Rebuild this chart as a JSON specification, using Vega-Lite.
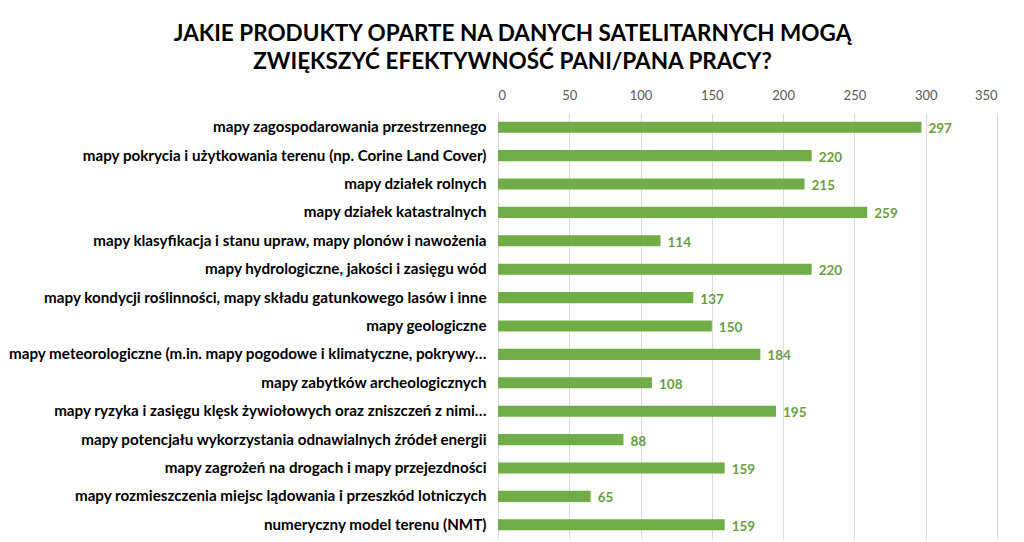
{
  "$schema": "https://vega.github.io/schema/vega-lite/v6.json",
  "width": 499,
  "height": 426,
  "autosize": {"type": "none"},
  "padding": {"left": 498, "top": 113, "right": 27, "bottom": 3},
  "background": "white",
  "title": {
    "text": ["JAKIE PRODUKTY OPARTE NA DANYCH SATELITARNYCH MOGĄ", "ZWIĘKSZYĆ EFEKTYWNOŚĆ PANI/PANA PRACY?"],
    "anchor": "middle",
    "frame": "group",
    "dx": -235,
    "font": "Lato",
    "fontSize": 22.5,
    "fontWeight": "bold",
    "color": "#000000",
    "lineHeight": 28,
    "offset": 16
  },
  "data": {
    "values": [
      {"kategoria": "mapy zagospodarowania przestrzennego", "liczba": 297},
      {"kategoria": "mapy pokrycia i użytkowania terenu (np. Corine Land Cover)", "liczba": 220},
      {"kategoria": "mapy działek rolnych", "liczba": 215},
      {"kategoria": "mapy działek katastralnych", "liczba": 259},
      {"kategoria": "mapy klasyfikacja i stanu upraw, mapy plonów i nawożenia", "liczba": 114},
      {"kategoria": "mapy hydrologiczne, jakości i zasięgu wód", "liczba": 220},
      {"kategoria": "mapy kondycji roślinności, mapy składu gatunkowego lasów i inne", "liczba": 137},
      {"kategoria": "mapy geologiczne", "liczba": 150},
      {"kategoria": "mapy meteorologiczne (m.in. mapy pogodowe i klimatyczne, pokrywy…", "liczba": 184},
      {"kategoria": "mapy zabytków archeologicznych", "liczba": 108},
      {"kategoria": "mapy ryzyka i zasięgu klęsk żywiołowych oraz zniszczeń z nimi…", "liczba": 195},
      {"kategoria": "mapy potencjału wykorzystania odnawialnych źródeł energii", "liczba": 88},
      {"kategoria": "mapy zagrożeń na drogach i mapy przejezdności", "liczba": 159},
      {"kategoria": "mapy rozmieszczenia miejsc lądowania i przeszkód lotniczych", "liczba": 65},
      {"kategoria": "numeryczny model terenu (NMT)", "liczba": 159}
    ]
  },
  "encoding": {
    "y": {
      "field": "kategoria",
      "type": "nominal",
      "sort": null,
      "title": null,
      "scale": {"paddingInner": 0.61, "paddingOuter": 0.305},
      "axis": {
        "domain": false,
        "ticks": false,
        "grid": false,
        "labelFont": "Lato",
        "labelFontSize": 15.2,
        "labelFontWeight": "bold",
        "labelColor": "#000000",
        "labelPadding": 12,
        "labelLimit": 520
      }
    },
    "x": {
      "field": "liczba",
      "type": "quantitative",
      "title": null,
      "scale": {"domain": [0, 350], "nice": false},
      "axis": {
        "orient": "top",
        "values": [0, 50, 100, 150, 200, 250, 300, 350],
        "domain": false,
        "ticks": false,
        "grid": true,
        "gridColor": "#D9D9D9",
        "gridWidth": 1,
        "labelFont": "Lato",
        "labelFontSize": 13,
        "labelColor": "#595959",
        "labelPadding": 11
      }
    }
  },
  "layer": [
    {
      "mark": {"type": "bar", "color": "#70AD47"}
    },
    {
      "mark": {"type": "text", "align": "left", "baseline": "middle", "dx": 7, "dy": 2, "font": "Lato", "fontSize": 13.5, "fontWeight": "bold", "color": "#6B9D3E"},
      "encoding": {"text": {"field": "liczba", "type": "quantitative"}}
    }
  ],
  "config": {"view": {"stroke": null}}
}
